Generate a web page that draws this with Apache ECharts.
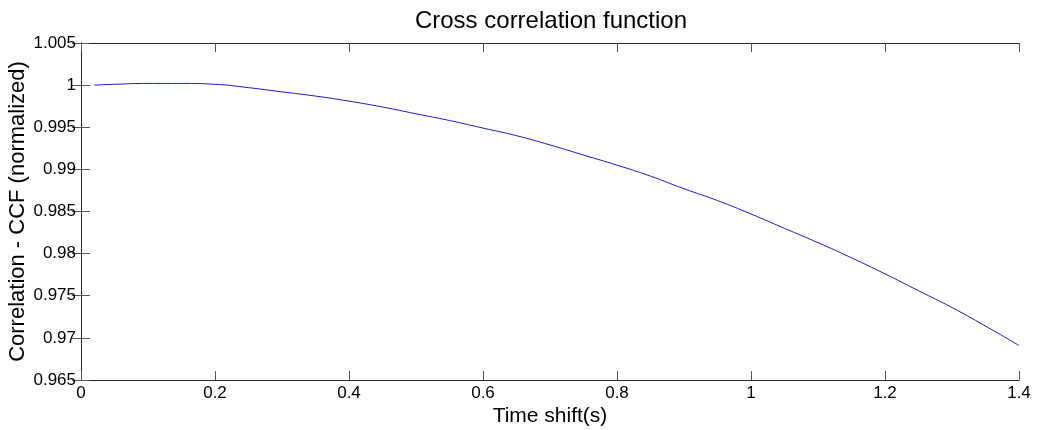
<!DOCTYPE html>
<html>
<head>
<meta charset="utf-8">
<script src="https://cdn.jsdelivr.net/npm/echarts@6/dist/echarts.min.js"></script>
<style>html,body{margin:0;padding:0;background:#fff}#c{width:1039px;height:430px}</style>
</head>
<body>
<div id="c"></div>
<script>
var timeShift = [0.02,0.05,0.1,0.15,0.2,0.25,0.3,0.35,0.4,0.45,0.5,0.55,0.6,0.65,0.7,0.75,0.8,0.85,0.9,0.95,1.0,1.05,1.1,1.15,1.2,1.25,1.3,1.35,1.4];
var ccf = [1.0000,1.0001,1.0002,1.0002,1.0001,0.9997,0.9992,0.9987,0.9981,0.9974,0.9966,0.9958,0.9949,0.9940,0.9929,0.9917,0.9905,0.9892,0.9877,0.9863,0.9847,0.9830,0.9813,0.9795,0.9776,0.9756,0.9736,0.9714,0.9691];
var xTickLabels = ["0","0.2","0.4","0.6","0.8","1","1.2","1.4"];
var yTickLabels = ["0.965","0.97","0.975","0.98","0.985","0.99","0.995","1","1.005"];

var font = 'Liberation Sans, Arial, sans-serif';
var chart = echarts.init(document.getElementById('c'), null, {renderer: 'canvas'});
var axisLineStyle = {color: '#262626', width: 1};
var tickStyle = {show: true, inside: true, length: 9, lineStyle: {color: '#555', width: 1}};
function xLab(v){ var i = Math.round(v/0.2); return xTickLabels[i] !== undefined ? xTickLabels[i] : ''; }
function yLab(v){ var i = Math.round((v-0.965)/0.005); return yTickLabels[i] !== undefined ? yTickLabels[i] : ''; }
chart.setOption({
  animation: false,
  backgroundColor: '#fff',
  title: {
    text: 'Cross correlation function',
    left: 546, top: 4, textAlign: 'center',
    textStyle: {fontFamily: font, fontSize: 24, fontWeight: 'normal', color: '#000'}
  },
  grid: {left: 81, right: 20, top: 43, bottom: 50, containLabel: false, outerBoundsMode: 'none'},
  xAxis: [{
    type: 'value', min: 0, max: 1.4, interval: 0.2, position: 'bottom',
    name: 'Time shift(s)', nameLocation: 'middle', nameGap: 26, nameMoveOverlap: false,
    nameTextStyle: {fontFamily: font, fontSize: 21, color: '#000'},
    axisLine: {show: true, lineStyle: axisLineStyle},
    axisTick: tickStyle,
    axisLabel: {fontFamily: font, fontSize: 17, color: '#000', margin: 5, formatter: xLab},
    splitLine: {show: false}
  }, {
    type: 'value', min: 0, max: 1.4, interval: 0.2, position: 'top',
    axisLine: {show: true, lineStyle: axisLineStyle},
    axisTick: tickStyle, axisLabel: {show: false}, splitLine: {show: false}
  }],
  yAxis: [{
    type: 'value', min: 0.965, max: 1.005, interval: 0.005, position: 'left',
    name: 'Correlation - CCF (normalized)', nameLocation: 'middle', nameGap: 52, nameMoveOverlap: false,
    nameTextStyle: {fontFamily: font, fontSize: 22, color: '#000'},
    axisLine: {show: true, lineStyle: axisLineStyle},
    axisTick: tickStyle,
    axisLabel: {fontFamily: font, fontSize: 17, color: '#000', margin: 5, formatter: yLab},
    splitLine: {show: false}
  }, {
    type: 'value', min: 0.965, max: 1.005, interval: 0.005, position: 'right',
    axisLine: {show: true, lineStyle: axisLineStyle},
    axisTick: tickStyle, axisLabel: {show: false}, splitLine: {show: false}
  }],
  series: [{
    type: 'line',
    data: timeShift.map(function(t, i){ return [t, ccf[i]]; }),
    smooth: true, showSymbol: false, symbol: 'none',
    lineStyle: {color: '#1a1acc', width: 1}
  }]
});
</script>
</body>
</html>
